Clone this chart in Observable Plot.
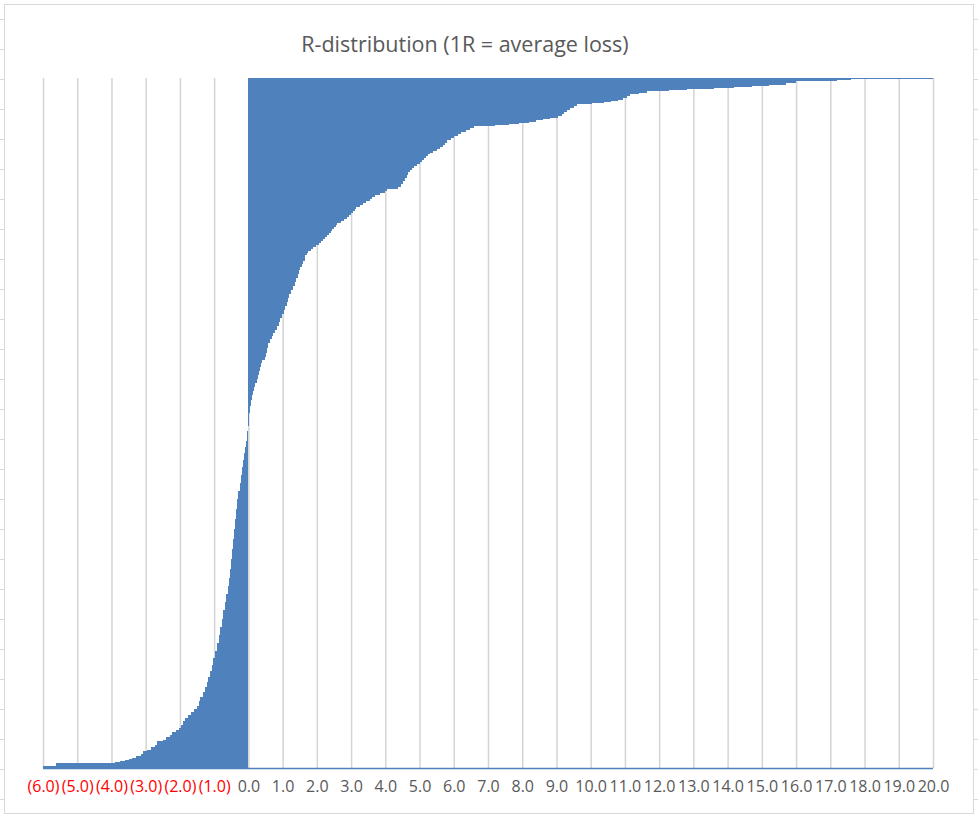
<!DOCTYPE html>
<html>
<head>
<meta charset="utf-8">
<script src="https://cdn.jsdelivr.net/npm/d3@7"></script>
<script src="https://cdn.jsdelivr.net/npm/@observablehq/plot@0.6"></script>
<style>
  html, body { margin: 0; padding: 0; }
  body {
    width: 978px; height: 820px; position: relative; overflow: hidden;
    background-color: #fff;
    background-image: linear-gradient(#d9d9d9 0 1px, transparent 1px);
    background-size: 100% 30px;
    background-position: 0 19px;
  }
  #frame {
    position: absolute; left: 4px; top: 4px; width: 968px; height: 808px;
    border: 1px solid #d9d9d9; background: #fff;
  }
  #title {
    position: absolute; left: 0; top: 30px; width: 930px; text-align: center;
    font-family: "Open Sans", sans-serif; font-size: 21.5px; line-height: 28px; color: #595959;
  }
  #chart { position: absolute; left: 0; top: 60px; }
</style>
</head>
<body>
<div id="frame"></div>
<div id="title">R-distribution (1R = average loss)</div>
<div id="chart"></div>
<script>
// Sorted R-multiples (bottom row = worst trade), as distinct values and how many trades share each
const rValues = [
  -6.00, -5.62, -3.90, -3.75, -3.60, -3.50, -3.40, -3.28, -3.15, -3.08,
  -2.95, -2.85, -2.72, -2.66, -2.50, -2.40, -2.30, -2.24, -2.12, -2.02,
  -1.96, -1.90, -1.84, -1.76, -1.67, -1.58, -1.50, -1.45, -1.40, -1.34,
  -1.28, -1.22, -1.17, -1.12, -1.07, -1.02, -0.97, -0.92, -0.87, -0.82,
  -0.78, -0.74, -0.69, -0.65, -0.61, -0.58, -0.55, -0.52, -0.48, -0.44,
  -0.41, -0.38, -0.35, -0.33, -0.29, -0.25, -0.22, -0.19, -0.16, -0.13,
  -0.10, -0.07, -0.05, -0.03, -0.01, 0.01, 0.03, 0.05, 0.07, 0.10,
  0.13, 0.16, 0.20, 0.24, 0.28, 0.31, 0.34, 0.37, 0.40, 0.48,
  0.52, 0.55, 0.58, 0.63, 0.68, 0.73, 0.78, 0.83, 0.88, 0.93,
  0.98, 1.03, 1.08, 1.12, 1.16, 1.20, 1.25, 1.30, 1.35, 1.40,
  1.45, 1.48, 1.52, 1.56, 1.60, 1.64, 1.66, 1.70, 1.75, 1.82,
  1.90, 1.98, 2.05, 2.12, 2.18, 2.24, 2.30, 2.35, 2.40, 2.45,
  2.50, 2.55, 2.60, 2.70, 2.80, 2.88, 2.95, 3.00, 3.05, 3.10,
  3.15, 3.25, 3.35, 3.45, 3.55, 3.62, 3.70, 3.85, 4.00, 4.05,
  4.38, 4.45, 4.52, 4.57, 4.62, 4.66, 4.72, 4.78, 4.84, 4.92,
  5.00, 5.06, 5.12, 5.18, 5.24, 5.30, 5.40, 5.50, 5.60, 5.68,
  5.74, 5.80, 5.92, 6.02, 6.12, 6.22, 6.35, 6.48, 6.60, 7.20,
  7.60, 7.90, 8.20, 8.40, 8.60, 8.80, 9.05, 9.15, 9.22, 9.30,
  9.40, 9.50, 9.60, 10.05, 10.40, 10.60, 10.80, 10.95, 11.05, 11.15,
  11.40, 11.65, 12.30, 12.80, 13.60, 14.20, 14.70, 15.20, 15.70, 16.00,
  17.20, 17.60, 20.00
];
const rCounts = [
  2, 3, 1, 1, 1, 1, 1, 2, 2, 3,
  1, 3, 2, 4, 1, 3, 2, 3, 2, 2,
  3, 4, 3, 3, 3, 3, 3, 5, 4, 5,
  5, 5, 5, 6, 6, 7, 7, 8, 8, 8,
  8, 9, 8, 8, 8, 8, 9, 10, 10, 10,
  10, 10, 10, 10, 8, 8, 8, 8, 7, 7,
  6, 6, 5, 5, 5, 6, 7, 7, 6, 5,
  4, 4, 4, 4, 4, 4, 4, 4, 3, 3,
  4, 5, 5, 4, 3, 3, 3, 4, 4, 4,
  4, 4, 4, 4, 4, 4, 4, 4, 4, 4,
  4, 4, 3, 3, 3, 3, 3, 2, 2, 2,
  2, 2, 2, 2, 2, 2, 2, 2, 2, 2,
  2, 2, 2, 2, 2, 2, 2, 2, 2, 2,
  2, 2, 2, 2, 2, 2, 2, 2, 2, 2,
  2, 3, 3, 3, 3, 3, 2, 2, 2, 2,
  2, 2, 2, 2, 2, 1, 2, 2, 2, 2,
  2, 3, 2, 2, 2, 2, 2, 2, 2, 1,
  1, 1, 1, 2, 1, 1, 2, 2, 2, 2,
  2, 2, 2, 1, 1, 1, 1, 2, 2, 2,
  1, 2, 1, 1, 1, 1, 1, 1, 2, 2,
  1, 1, 1
];
const tickValues = [-6, -5, -4, -3, -2, -1, 0, 1, 2, 3, 4, 5, 6, 7, 8, 9, 10, 11, 12, 13, 14, 15, 16, 17, 18, 19, 20];

// One row per trade
const trades = [];
rValues.forEach((r, k) => {
  for (let c = 0; c < rCounts[k]; c++) trades.push({i: trades.length, r});
});
const N = trades.length;

const fmt = d => d < 0 ? `(${(-d).toFixed(1)})` : d.toFixed(1);

const chart = Plot.plot({
  width: 978,
  height: 760,
  marginLeft: 43,
  marginRight: 45,
  marginTop: 18,
  marginBottom: 52,
  style: {fontFamily: "Open Sans, sans-serif", background: "transparent"},
  x: {domain: [-6, 20], axis: null},
  y: {domain: [0, N], axis: null},
  color: {type: "identity"},
  marks: [
    Plot.ruleX(tickValues, {x: d => d, stroke: "#d4d4d4", strokeWidth: 1.5}),
    Plot.rect(trades, {
      x1: 0, x2: "r",
      y1: "i", y2: d => d.i + 1,
      fill: "#4f81bd",
      shapeRendering: "crispEdges"
    }),
    Plot.ruleY([0], {stroke: "#4f81bd", strokeWidth: 1.5}),
    Plot.text(tickValues, {
      x: d => d,
      text: fmt,
      frameAnchor: "bottom",
      dy: 23,
      fontSize: 16,
      fill: d => d < 0 ? "#ff0000" : "#595959"
    })
  ]
});
document.getElementById("chart").appendChild(chart);
</script>
</body>
</html>
